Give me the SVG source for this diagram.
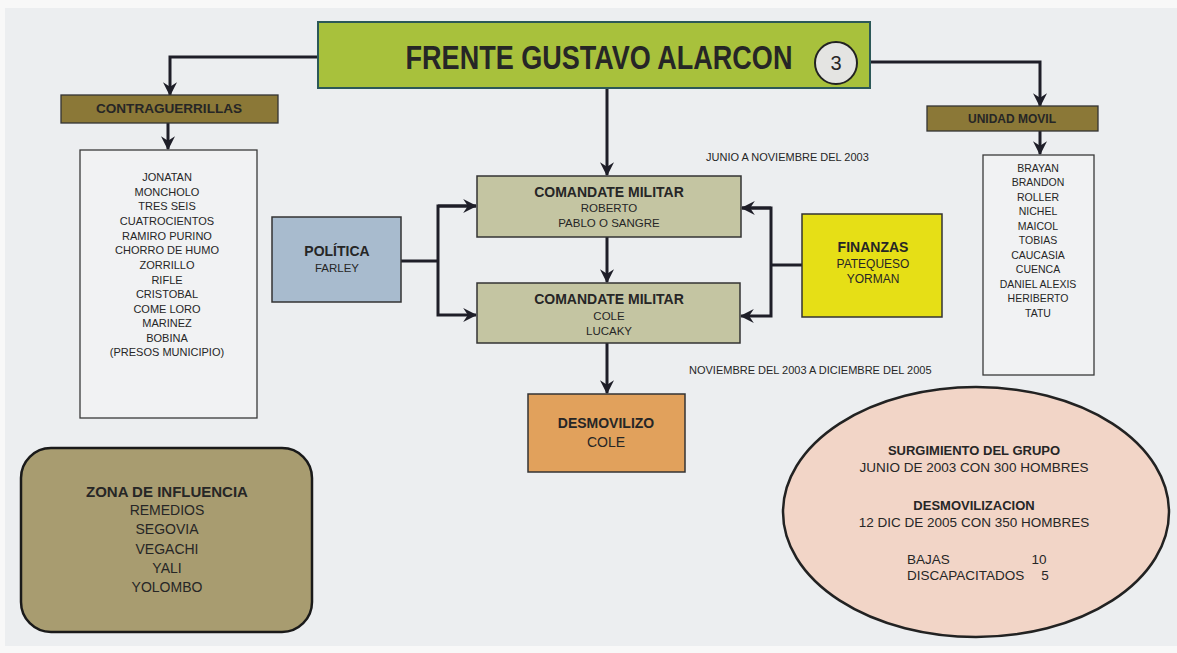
<svg xmlns="http://www.w3.org/2000/svg" width="1177" height="653" viewBox="0 0 1177 653">
<defs>
<marker id="arr" markerUnits="userSpaceOnUse" markerWidth="14" markerHeight="14" viewBox="0 0 12 12" refX="11" refY="6" orient="auto">
<path d="M0,0 L12,6 L0,12 L4,6 z" fill="#1e1e28"/>
</marker>
<style>
text{font-family:"Liberation Sans",Arial,sans-serif;fill:#262626;text-anchor:middle}
.b{font-weight:bold}
.conn{fill:none;stroke:#1e1e28;stroke-width:3;stroke-linejoin:miter}
.list{fill:#f1f2f3;stroke:#3a3a3a;stroke-width:1.3}
.box{stroke:#333;stroke-width:1.5}
.n{font-size:11px}
.u{font-size:10.5px}
</style>
</defs>
<rect x="0" y="0" width="1177" height="653" fill="#f8f8f8"/>
<rect x="5" y="8" width="1172" height="638" fill="#eceef0"/>

<g id="connectors">
<polyline class="conn" points="318,57 170,57 170,95" marker-end="url(#arr)"/>
<polyline class="conn" points="168,123 168,149" marker-end="url(#arr)"/>
<polyline class="conn" points="870,62 1040,62 1040,106" marker-end="url(#arr)"/>
<polyline class="conn" points="1040,131 1040,154" marker-end="url(#arr)"/>
<polyline class="conn" points="607,88 607,175" marker-end="url(#arr)"/>
<polyline class="conn" points="607,237 607,282" marker-end="url(#arr)"/>
<polyline class="conn" points="607,343 607,393" marker-end="url(#arr)"/>
<polyline class="conn" points="401,261 438,261"/>
<polyline class="conn" points="476,206 438,206 438,315 476,315" marker-end="url(#arr)"/>
<polyline class="conn" points="438,206 476,206" marker-end="url(#arr)"/>
<polyline class="conn" points="802,265 771,265"/>
<polyline class="conn" points="742,208 771,208 771,316 741,316" marker-end="url(#arr)"/>
<polyline class="conn" points="771,208 742,208" marker-end="url(#arr)"/>
</g>

<g id="title">
<rect x="318" y="22" width="552" height="66" fill="#a8c13c" stroke="#2c5858" stroke-width="2"/>
<text transform="translate(599,69) scale(0.795,1)" x="0" y="0" class="b" font-size="34" fill="#1f2a1a">FRENTE GUSTAVO ALARCON</text>
<ellipse cx="836" cy="63" rx="21" ry="21" fill="#e4e4e2" stroke="#222" stroke-width="2"/>
<text x="836" y="70" font-size="20">3</text>
</g>

<g id="contraguerrillas">
<rect x="61" y="95" width="217" height="28" fill="#8b7837" stroke="#333" stroke-width="1.3"/>
<text x="169" y="113" class="b" font-size="12" textLength="146" lengthAdjust="spacingAndGlyphs" fill="#2a2612">CONTRAGUERRILLAS</text>
</g>

<g id="contra-list">
<rect class="list" x="80" y="150" width="177" height="268"/>
<text class="n" x="167" y="181">JONATAN</text>
<text class="n" x="167" y="196">MONCHOLO</text>
<text class="n" x="167" y="210">TRES SEIS</text>
<text class="n" x="167" y="225">CUATROCIENTOS</text>
<text class="n" x="167" y="240">RAMIRO PURINO</text>
<text class="n" x="167" y="254">CHORRO DE HUMO</text>
<text class="n" x="167" y="269">ZORRILLO</text>
<text class="n" x="167" y="284">RIFLE</text>
<text class="n" x="167" y="298">CRISTOBAL</text>
<text class="n" x="167" y="313">COME LORO</text>
<text class="n" x="167" y="327">MARINEZ</text>
<text class="n" x="167" y="342">BOBINA</text>
<text class="n" x="167" y="356">(PRESOS  MUNICIPIO)</text>
</g>

<g id="unidad-movil">
<rect x="927" y="106" width="171" height="25" fill="#8b7837" stroke="#333" stroke-width="1.3"/>
<text x="1012" y="123" class="b" font-size="12" fill="#2a2612">UNIDAD MOVIL</text>
</g>

<g id="unidad-list">
<rect class="list" x="983" y="155" width="111" height="220"/>
<text class="u" x="1038" y="172">BRAYAN</text>
<text class="u" x="1038" y="186">BRANDON</text>
<text class="u" x="1038" y="201">ROLLER</text>
<text class="u" x="1038" y="215">NICHEL</text>
<text class="u" x="1038" y="230">MAICOL</text>
<text class="u" x="1038" y="244">TOBIAS</text>
<text class="u" x="1038" y="259">CAUCASIA</text>
<text class="u" x="1038" y="273">CUENCA</text>
<text class="u" x="1038" y="288">DANIEL ALEXIS</text>
<text class="u" x="1038" y="302">HERIBERTO</text>
<text class="u" x="1038" y="317">TATU</text>
</g>

<g id="comandante-1">
<rect class="box" x="477" y="176" width="264" height="61" fill="#c4c5a2"/>
<text x="609" y="197" class="b" font-size="14">COMANDATE MILITAR</text>
<text x="609" y="212" font-size="11.5">ROBERTO</text>
<text x="609" y="227" font-size="11.5">PABLO O SANGRE</text>
</g>

<g id="comandante-2">
<rect class="box" x="477" y="283" width="263" height="60" fill="#c4c5a2"/>
<text x="609" y="304" class="b" font-size="14">COMANDATE MILITAR</text>
<text x="609" y="320" font-size="11.5">COLE</text>
<text x="609" y="335" font-size="11.5">LUCAKY</text>
</g>

<g id="politica">
<rect class="box" x="272" y="217" width="129" height="85" fill="#a8bbce"/>
<text x="337" y="256" class="b" font-size="14">POLÍTICA</text>
<text x="337" y="272" font-size="11.5">FARLEY</text>
</g>

<g id="finanzas">
<rect class="box" x="802" y="214" width="140" height="103" fill="#e6df16"/>
<text x="873" y="252" class="b" font-size="14">FINANZAS</text>
<text x="873" y="268" font-size="12">PATEQUESO</text>
<text x="873" y="283" font-size="12">YORMAN</text>
</g>

<g id="periodos">
<text x="706" y="161" font-size="11" style="text-anchor:start">JUNIO A NOVIEMBRE DEL 2003</text>
<text x="689" y="374" font-size="11" style="text-anchor:start">NOVIEMBRE DEL 2003 A DICIEMBRE DEL 2005</text>
</g>

<g id="desmovilizo">
<rect class="box" x="528" y="394" width="157" height="78" fill="#e1a15c"/>
<text x="606" y="428" class="b" font-size="14">DESMOVILIZO</text>
<text x="606" y="447" font-size="14">COLE</text>
</g>

<g id="zona-influencia">
<rect x="21" y="448" width="291" height="184" rx="30" ry="30" fill="#a89c70" stroke="#1a1a1a" stroke-width="2.5"/>
<text x="167" y="497" class="b" font-size="15">ZONA DE INFLUENCIA</text>
<text x="167" y="515" font-size="14">REMEDIOS</text>
<text x="167" y="534" font-size="14">SEGOVIA</text>
<text x="167" y="554" font-size="14">VEGACHI</text>
<text x="167" y="573" font-size="14">YALI</text>
<text x="167" y="592" font-size="14">YOLOMBO</text>
</g>

<g id="resumen">
<ellipse cx="976" cy="512" rx="193" ry="125" fill="#f2d5c7" stroke="#222" stroke-width="2.5"/>
<text x="974" y="455" class="b" font-size="13">SURGIMIENTO DEL GRUPO</text>
<text x="974" y="472" font-size="13.5">JUNIO DE 2003 CON 300 HOMBRES</text>
<text x="974" y="510" class="b" font-size="13">DESMOVILIZACION</text>
<text x="974" y="527" font-size="13.5">12 DIC DE 2005 CON 350 HOMBRES</text>
<text x="907" y="564" font-size="13.5" style="text-anchor:start">BAJAS</text>
<text x="1039" y="564" font-size="13.5">10</text>
<text x="907" y="580" font-size="13.5" style="text-anchor:start">DISCAPACITADOS</text>
<text x="1045" y="580" font-size="13.5">5</text>
</g>
</svg>
